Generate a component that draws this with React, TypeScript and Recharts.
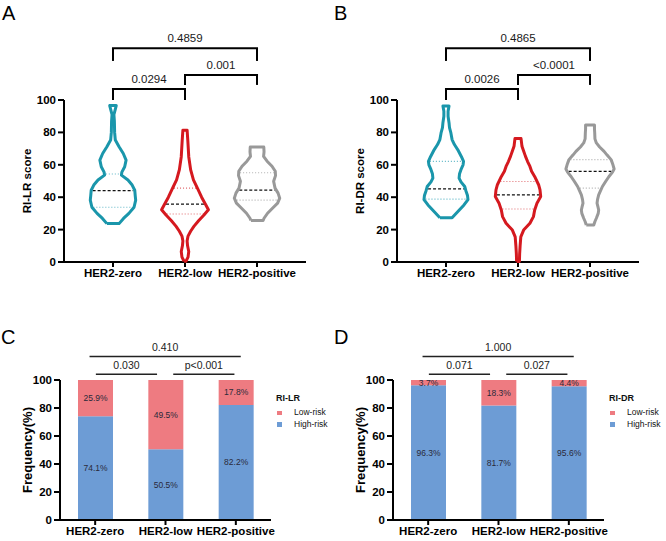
import React from "react"
import {
  Bar,
  BarChart,
  LabelList,
  Legend,
  ReferenceLine,
  Scatter,
  ScatterChart,
  XAxis,
  YAxis,
} from "recharts"

const groups = ["HER2-zero", "HER2-low", "HER2-positive"]
const yTicks = [0, 20, 40, 60, 80, 100]

type Level = [number, number] // [score, relative density]

// violin outlines (RI-LR)
const lrZero: Level[] = [
  [23.7, 0.26], [26.9, 0.45], [30, 0.68], [33.8, 0.9], [38.2, 0.97], [41, 0.95], [44.3, 0.93],
  [47.5, 0.82], [50.6, 0.64], [53.6, 0.36], [55.5, 0.38], [58.8, 0.5], [62.9, 0.56], [67, 0.44],
  [71.1, 0.26], [75.3, 0.1], [80, 0.07], [87, 0.06], [91, 0.04], [96.6, 0.14],
]
const lrLow: Level[] = [
  [0.5, 0.04], [3, 0.13], [6.5, 0.16], [10, 0.11], [13, 0.09], [16, 0.13], [19, 0.24], [22, 0.38],
  [25.5, 0.58], [29, 0.81], [32.3, 1.0], [35.5, 0.88], [40, 0.71], [45.6, 0.53], [50.7, 0.36],
  [57, 0.24], [65, 0.16], [75, 0.12], [81.4, 0.09],
]
const lrPositive: Level[] = [
  [25.6, 0.26], [27, 0.3], [30.1, 0.45], [33.2, 0.66], [36.3, 0.88], [39.4, 0.97], [42.5, 0.9],
  [45.6, 0.77], [49.8, 0.71], [53.3, 0.79], [56, 0.78], [59.1, 0.64], [62.2, 0.43], [65.2, 0.28],
  [68, 0.3], [71, 0.29],
]

// violin outlines (RI-DR)
const drZero: Level[] = [
  [27.3, 0.26], [31, 0.5], [35.2, 0.77], [38.5, 0.94], [41, 0.92], [44, 0.85], [46.6, 0.8],
  [49.5, 0.64], [51.8, 0.56], [54.5, 0.58], [57, 0.64], [60, 0.73], [62.1, 0.75], [65, 0.66],
  [69.4, 0.5], [72.5, 0.36], [75.6, 0.26], [79.7, 0.21], [83, 0.15], [86, 0.13], [90, 0.09],
  [93, 0.09], [96.3, 0.13],
]
const drLow: Level[] = [
  [0.3, 0.06], [5, 0.07], [10, 0.09], [15.5, 0.12], [19.7, 0.24], [23.9, 0.51], [28, 0.66],
  [32, 0.71], [36.3, 0.81], [40.4, 0.97], [44.5, 0.94], [47.7, 0.88], [52.8, 0.71], [56, 0.58],
  [59, 0.51], [62, 0.41], [65.2, 0.32], [68.5, 0.24], [71.4, 0.17], [76.2, 0.13],
]
const drPositive: Level[] = [
  [22.8, 0.16], [25, 0.21], [27, 0.27], [30, 0.35], [32.1, 0.37], [34, 0.34], [36.3, 0.3],
  [38.5, 0.32], [41.4, 0.37], [44, 0.45], [46.6, 0.53], [50, 0.68], [52.8, 0.81], [55.5, 0.96],
  [57.4, 1.03], [60, 0.98], [63.2, 0.9], [66, 0.73], [68.3, 0.6], [71, 0.41], [73.5, 0.27],
  [76, 0.21], [79.8, 0.2], [82, 0.19], [84.5, 0.19],
]

// [Q1, median, Q3] per group
const lrQuartiles = [[33.8, 44.1, 54.3], [29.6, 35.7, 45.6], [38.2, 44.4, 55.1]]
const drQuartiles = [[38.8, 45.2, 62.1], [32.7, 41.4, 49.7], [45.6, 55.9, 63.2]]

// comparison brackets above the violins
const lrPairs = [
  { from: 0, to: 1, top: 106.8, foot: 100, p: "0.0294" },
  { from: 1, to: 2, top: 115.5, foot: 109.3, p: "0.001" },
  { from: 0, to: 2, top: 132, foot: 124.1, p: "0.4859" },
]
const drPairs = [
  { from: 0, to: 1, top: 106.8, foot: 100, p: "0.0026" },
  { from: 1, to: 2, top: 115.5, foot: 109.3, p: "<0.0001" },
  { from: 0, to: 2, top: 132, foot: 124.1, p: "0.4865" },
]

// stacked frequencies (%)
const highLR = [74.1, 50.5, 82.2]
const lowLR = [25.9, 49.5, 17.8]
const highDR = [96.3, 81.7, 95.6]
const lowDR = [3.7, 18.3, 4.4]

// chi-square comparison lines: [from, to, level, label]
const lrTests: [number, number, number, string][] = [
  [0.01, 0.88, 104.1, "0.030"],
  [1.11, 1.98, 104.1, "p<0.001"],
  [-0.08, 2.07, 116.8, "0.410"],
]
const drTests: [number, number, number, string][] = [
  [0.01, 0.88, 104.1, "0.071"],
  [1.11, 1.98, 104.1, "0.027"],
  [-0.08, 2.07, 116.8, "1.000"],
]

const violinColors = ["#1A96AB", "#D5191F", "#999999"]
const quartileColors = ["#5DB6C6", "#E06A6E", "#B0B0B0"]
const lowColor = "#EE7B81"
const highColor = "#6D9CD5"

const MAX_HALF = 0.325 // half-width (category units) at density 1
const axisStyle = { stroke: "#000", strokeWidth: 2 }
const tickFont = { fill: "#000", fontSize: 11.5, fontWeight: "bold" }

function outline(levels: Level[], center: number) {
  const left = levels.map(([y, d]) => ({ x: center - d * MAX_HALF, y }))
  const right = [...levels].reverse().map(([y, d]) => ({ x: center + d * MAX_HALF, y }))
  return [...left, ...right, left[0]]
}

function densityAt(levels: Level[], y: number) {
  for (let i = 1; i < levels.length; i++) {
    const [y0, d0] = levels[i - 1]
    const [y1, d1] = levels[i]
    if (y >= y0 && y <= y1) return d0 + ((d1 - d0) * (y - y0)) / (y1 - y0)
  }
  return 0
}

interface ViolinProps {
  shapes: Level[][]
  quartiles: number[][]
  pairs: { from: number; to: number; top: number; foot: number; p: string }[]
  yLabel: string
}

function ViolinPanel({ shapes, quartiles, pairs, yLabel }: ViolinProps) {
  const quartileLines = quartiles.flatMap((qs, i) =>
    qs.map((q, k) => {
      const hw = Math.max(densityAt(shapes[i], q) * MAX_HALF - 0.02, 0.02)
      return (
        <ReferenceLine
          key={`q-${i}-${k}`}
          segment={[{ x: i - hw, y: q }, { x: i + hw, y: q }]}
          stroke={k === 1 ? "#111" : quartileColors[i]}
          strokeWidth={k === 1 ? 1.2 : 1.1}
          strokeDasharray={k === 1 ? "3 2" : "1 2"}
        />
      )
    })
  )

  const bracketLines = pairs.flatMap((b, i) => [
    <ReferenceLine
      key={`bl-${i}`}
      segment={[{ x: b.from, y: b.foot }, { x: b.from, y: b.top }]}
      stroke="#000"
      strokeWidth={2}
      ifOverflow="visible"
    />,
    <ReferenceLine
      key={`bt-${i}`}
      segment={[{ x: b.from, y: b.top }, { x: b.to, y: b.top }]}
      stroke="#000"
      strokeWidth={2}
      strokeLinecap="square"
      ifOverflow="visible"
      label={{ value: b.p, position: "top", offset: 6, fill: "#1a1a1a", fontSize: 11.5 }}
    />,
    <ReferenceLine
      key={`br-${i}`}
      segment={[{ x: b.to, y: b.top }, { x: b.to, y: b.foot }]}
      stroke="#000"
      strokeWidth={2}
      ifOverflow="visible"
    />,
  ])

  return (
    <ScatterChart width={333} height={300} margin={{ top: 100, right: 27, bottom: 20, left: 0 }}>
      <XAxis
        type="number"
        dataKey="x"
        domain={[-0.68, 2.68]}
        ticks={[0, 1, 2]}
        interval={0}
        tickFormatter={(v) => groups[Number(v)] ?? ""}
        axisLine={axisStyle}
        tickLine={axisStyle}
        tickSize={5}
        tick={tickFont}
        height={18}
      />
      <YAxis
        type="number"
        dataKey="y"
        domain={[0, 100]}
        ticks={yTicks}
        interval={0}
        width={64}
        axisLine={axisStyle}
        tickLine={axisStyle}
        tickSize={6}
        tick={tickFont}
        label={{
          value: yLabel,
          angle: -90,
          position: "insideLeft",
          offset: 27,
          fill: "#000",
          fontSize: 11.5,
          fontWeight: "bold",
          style: { textAnchor: "middle" },
        }}
      />
      {shapes.map((levels, i) => (
        <Scatter
          key={`v-${i}`}
          data={outline(levels, i)}
          fill={violinColors[i]}
          line={{ stroke: violinColors[i], strokeWidth: 3, strokeLinejoin: "round" }}
          shape={() => <g />}
          isAnimationActive={false}
        />
      ))}
      {quartileLines}
      {bracketLines}
    </ScatterChart>
  )
}

interface BarProps {
  high: number[]
  low: number[]
  tests: [number, number, number, string][]
  legendTitle: string
}

function BarPanel({ high, low, tests, legendTitle }: BarProps) {
  const rows = groups.map((name, i) => ({ pos: i, name, high: high[i], low: low[i] }))
  return (
    <BarChart width={333} height={270} data={rows} margin={{ top: 100, right: 62, bottom: 9, left: 0 }}>
      <XAxis
        type="number"
        dataKey="pos"
        domain={[-0.5, 2.5]}
        ticks={[0, 1, 2]}
        interval={0}
        tickFormatter={(v) => groups[Number(v)] ?? ""}
        axisLine={axisStyle}
        tickLine={axisStyle}
        tickSize={5}
        tick={tickFont}
        height={21}
      />
      <YAxis
        type="number"
        domain={[0, 100]}
        ticks={yTicks}
        interval={0}
        width={60}
        axisLine={axisStyle}
        tickLine={axisStyle}
        tickSize={6}
        tick={tickFont}
        label={{
          value: "Frequency(%)",
          angle: -90,
          position: "insideLeft",
          offset: 27,
          fill: "#000",
          fontSize: 13,
          fontWeight: "bold",
          style: { textAnchor: "middle" },
        }}
      />
      <Legend
        layout="vertical"
        align="center"
        verticalAlign="middle"
        wrapperStyle={{ left: 276, top: 113, width: "auto" }}
        content={({ payload }) => (
          <div style={{ fontSize: 8.5, lineHeight: "11.5px", color: "#111" }}>
            <div style={{ fontWeight: "bold", fontSize: 9, marginBottom: 2.5 }}>{legendTitle}</div>
            {[...(payload ?? [])].reverse().map((entry) => (
              <div key={String(entry.value)} style={{ display: "flex", alignItems: "center" }}>
                <span
                  style={{
                    display: "inline-block",
                    width: 4.5,
                    height: 4.5,
                    marginLeft: 1,
                    marginRight: 12.5,
                    background: entry.color,
                  }}
                />
                <span>{entry.value}</span>
              </div>
            ))}
          </div>
        )}
      />
      <Bar dataKey="high" name="High-risk" stackId="s" fill={highColor} barSize={35} isAnimationActive={false}>
        <LabelList dataKey="high" position="center" formatter={(v) => `${v}%`} fill="#2a2a3a" fontSize={8.5} />
      </Bar>
      <Bar dataKey="low" name="Low-risk" stackId="s" fill={lowColor} barSize={35} isAnimationActive={false}>
        <LabelList dataKey="low" position="center" formatter={(v) => `${v}%`} fill="#2a2a3a" fontSize={8.5} />
      </Bar>
      {tests.map(([from, to, level, p], i) => (
        <ReferenceLine
          key={`t-${i}`}
          segment={[{ x: from, y: level }, { x: to, y: level }]}
          stroke="#222"
          strokeWidth={1.5}
          ifOverflow="visible"
          label={{ value: p, position: "top", offset: 5, fill: "#222", fontSize: 10.5 }}
        />
      ))}
    </BarChart>
  )
}

const letterStyle: React.CSSProperties = {
  position: "absolute",
  fontSize: 20,
  lineHeight: "20px",
  color: "#000",
}

export default function App() {
  return (
    <div
      style={{
        position: "absolute",
        left: 0,
        top: 0,
        width: 666,
        height: 541,
        background: "#fff",
        overflow: "hidden",
        fontFamily: '"Liberation Sans", Arial, sans-serif',
      }}
    >
      <div style={{ position: "absolute", left: 0, top: 0 }}>
        <ViolinPanel shapes={[lrZero, lrLow, lrPositive]} quartiles={lrQuartiles} pairs={lrPairs} yLabel="RI-LR score" />
      </div>
      <div style={{ position: "absolute", left: 333, top: 0 }}>
        <ViolinPanel shapes={[drZero, drLow, drPositive]} quartiles={drQuartiles} pairs={drPairs} yLabel="RI-DR score" />
      </div>
      <div style={{ position: "absolute", left: 0, top: 280 }}>
        <BarPanel high={highLR} low={lowLR} tests={lrTests} legendTitle="RI-LR" />
      </div>
      <div style={{ position: "absolute", left: 333, top: 280 }}>
        <BarPanel high={highDR} low={lowDR} tests={drTests} legendTitle="RI-DR" />
      </div>
      <div style={{ ...letterStyle, left: 2, top: 3 }}>A</div>
      <div style={{ ...letterStyle, left: 334, top: 3 }}>B</div>
      <div style={{ ...letterStyle, left: 1, top: 327 }}>C</div>
      <div style={{ ...letterStyle, left: 334, top: 327 }}>D</div>
    </div>
  )
}
